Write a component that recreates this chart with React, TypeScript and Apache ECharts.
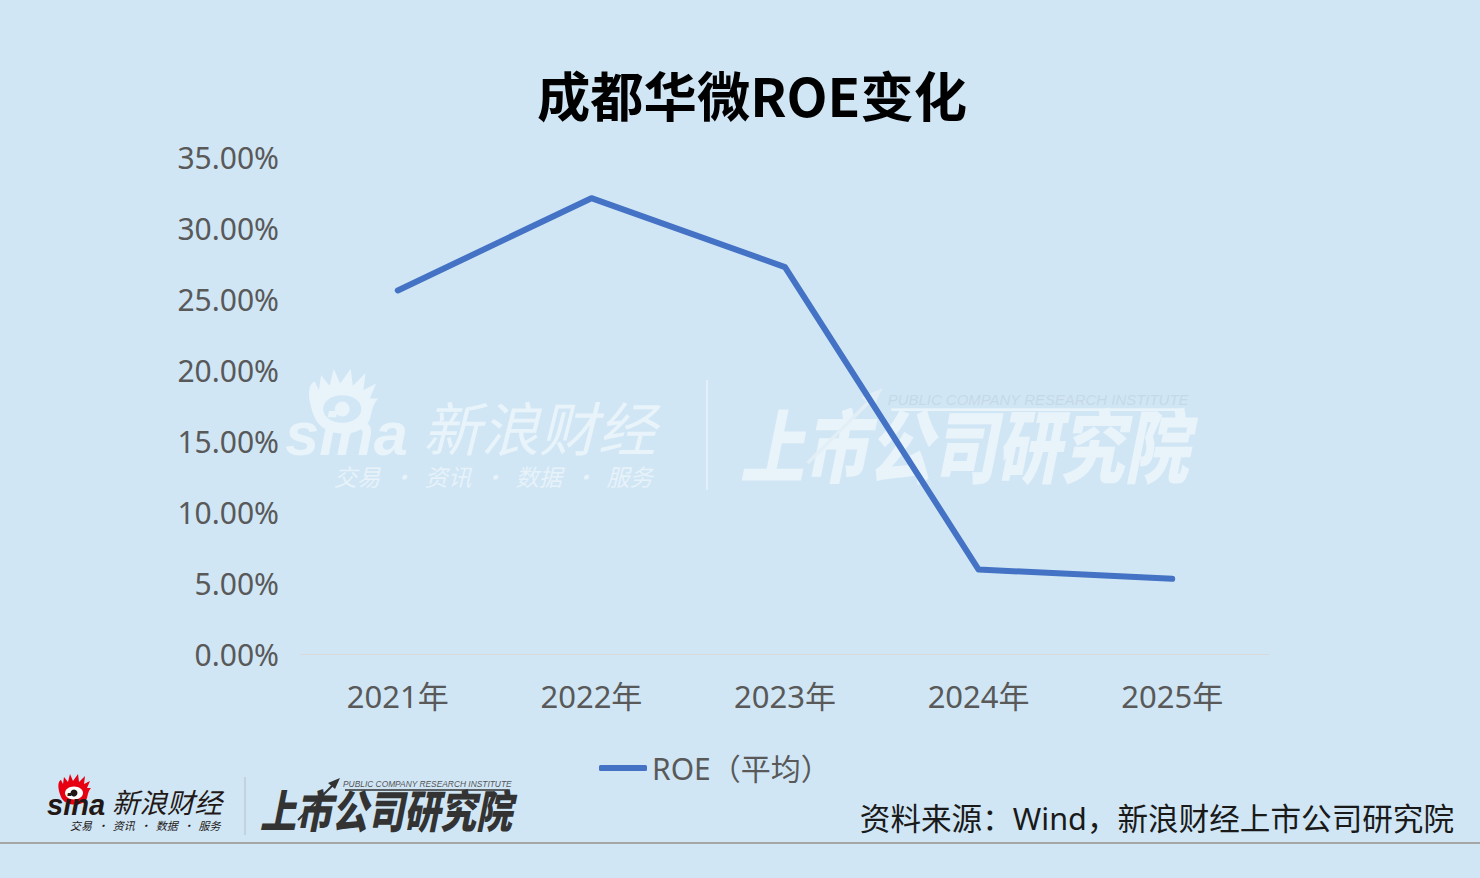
import React, { useEffect, useRef } from "react";
import * as echarts from "echarts";

const categories = ["2021年", "2022年", "2023年", "2024年", "2025年"];
const roeValues = [25.6, 32.1, 27.25, 5.95, 5.3];
const seriesName = "ROE（平均）";
const titleText = "成都华微ROE变化";
const sourceText = "资料来源：Wind，新浪财经上市公司研究院";

const FONT = '"Noto Sans", "Noto Sans CJK SC", sans-serif';
const CJK = '"Noto Sans CJK SC", sans-serif';

echarts.graphic.registerShape(
  "sinaFlame",
  echarts.graphic.extendPath(
    "M-13 4 C-17 -6 -16 -12 -13 -13 L-11 -9 L-10 -16 L-6 -11 L-4 -19 L-1 -12 L4 -19 L5 -11 L11 -17 L10 -9 L16 -12 L13 -5 L17 -5 C14 -2 14 2 13 5 C10 14 -9 14 -13 4 Z",
    {}
  ) as any
);

function logoGroup(x: number, y: number, s: number, fill: string, mark: string, eye: string, pupil: string, opacity: number, z: number) {
  return {
    type: "group",
    x,
    y,
    scaleX: s,
    scaleY: s,
    z,
    silent: true,
    children: [
      { type: "sinaFlame", x: 27, y: 0, style: { fill: mark, opacity } },
      { type: "ellipse", shape: { cx: 27, cy: 0, rx: 9, ry: 6.5 }, style: { fill: eye, opacity } },
      { type: "circle", shape: { cx: 27, cy: 0, r: 3.5 }, style: { fill: pupil, opacity } },
      { type: "text", x: 0, y: -3, style: { text: "sina", fill, opacity, font: 'italic bold 29px "Liberation Sans", sans-serif' } },
      { type: "text", x: 65, y: -6, style: { text: "新浪财经", fill, opacity, font: `italic 27.5px ${CJK}` } },
      { type: "text", x: 23, y: 26, style: { text: "交易  ·  资讯  ·  数据  ·  服务", fill, opacity, font: `italic 11px ${CJK}` } },
    ],
  };
}

function instituteGroup(x: number, y: number, s: number, fill: string, arrow: string, small: string, opacity: number, z: number) {
  return {
    type: "group",
    x,
    y,
    scaleX: s,
    scaleY: s,
    z,
    silent: true,
    children: [
      { type: "text", x: 0, y: 2, scaleY: 1.25, style: { text: "上市公司研究院", fill, opacity, font: `italic 900 36px ${CJK}` } },
      { type: "line", shape: { x1: 38, y1: 36, x2: 76, y2: -2 }, style: { stroke: arrow, lineWidth: 2, opacity } },
      { type: "polygon", shape: { points: [[80, -6], [68, -1], [75, 5]] }, style: { fill: arrow, opacity } },
      { type: "text", x: 83, y: -4, style: { text: "PUBLIC COMPANY RESEARCH INSTITUTE", fill: small, opacity, font: 'italic 8.4px "Liberation Sans", sans-serif' } },
      { type: "line", shape: { x1: 85, y1: 6, x2: 248, y2: 6 }, style: { stroke: fill, lineWidth: 1.5, opacity } },
    ],
  };
}

export default function App() {
  const ref = useRef<HTMLDivElement>(null);
  useEffect(() => {
    const chart = echarts.init(ref.current!, undefined, { renderer: "svg" });
    chart.setOption({
      animation: false,
      backgroundColor: "#D0E6F5",
      title: {
        text: titleText,
        left: 747,
        top: 62,
        textAlign: "center",
        textStyle: { fontFamily: CJK, fontSize: 53.3, fontWeight: "bold", color: "#000000" },
      },
      grid: { left: 301, right: 211, top: 157, bottom: 224, containLabel: false },
      legend: {
        left: 594,
        top: 748,
        itemWidth: 48,
        itemHeight: 6,
        itemGap: 10,
        icon: "roundRect",
        symbolKeepAspect: false,
        data: [seriesName],
        itemStyle: { color: "#4472C4" },
        textStyle: { fontFamily: FONT, fontSize: 30, color: "#595959" },
      },
      xAxis: {
        type: "category",
        data: categories,
        boundaryGap: true,
        axisTick: { show: false },
        axisLine: { lineStyle: { color: "#D9D9D9", width: 1 } },
        axisLabel: { color: "#595959", fontFamily: FONT, fontSize: 31, margin: 26 },
      },
      yAxis: {
        type: "value",
        min: 0,
        max: 35,
        interval: 5,
        axisLine: { show: false },
        axisTick: { show: false },
        splitLine: { show: false },
        axisLabel: {
          color: "#595959",
          fontFamily: FONT,
          fontSize: 30,
          margin: 22,
          formatter: (v: number) => `${v.toFixed(2)}%`,
        },
      },
      series: [
        {
          name: seriesName,
          type: "line",
          data: roeValues,
          symbol: "none",
          z: 5,
          lineStyle: { color: "#4472C4", width: 6, cap: "round", join: "round" },
          itemStyle: { color: "#4472C4" },
        },
      ],
      graphic: [
        logoGroup(285, 409, 2.12, "#E9F3FA", "#E9F3FA", "#D0E6F5", "#E9F3FA", 0.95, 0),
        { type: "line", z: 0, silent: true, shape: { x1: 707, y1: 380, x2: 707, y2: 490 }, style: { stroke: "#E3F0F9", lineWidth: 2 } },
        instituteGroup(740, 399, 1.78, "#E9F3FA", "#E3EEF6", "#C5D8E6", 0.95, 0),
        logoGroup(47, 793, 1, "#231815", "#E60012", "#FFFFFF", "#231815", 1, 1),
        { type: "line", z: 1, silent: true, shape: { x1: 245, y1: 777, x2: 245, y2: 835 }, style: { stroke: "#B5C0C8", lineWidth: 1 } },
        instituteGroup(260, 784, 1, "#333333", "#333333", "#555555", 1, 1),
        {
          type: "text",
          z: 6,
          right: 26,
          top: 803,
          style: { text: sourceText, fill: "#1A1A1A", font: `30.6px ${FONT}` },
        },
        { type: "line", z: 1, silent: true, shape: { x1: 0, y1: 843, x2: 1480, y2: 843 }, style: { stroke: "#A6A6A6", lineWidth: 2 } },
      ],
    });
    return () => chart.dispose();
  }, []);
  return <div ref={ref} style={{ position: "absolute", left: 0, top: 0, width: 1480, height: 878 }} />;
}
